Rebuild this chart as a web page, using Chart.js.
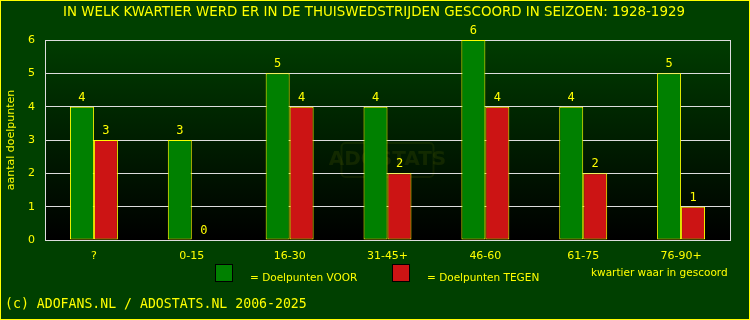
<!DOCTYPE html>
<html>
<head>
<meta charset="utf-8">
<script src="https://cdn.jsdelivr.net/npm/chart.js@4/dist/chart.umd.min.js"></script>
<style>
  html, body { margin: 0; padding: 0; background: #004000; }
  #wrap { position: relative; width: 750px; height: 320px; }
</style>
</head>
<body>
<div id="wrap"><canvas id="chart" width="750" height="320"></canvas></div>
<script>
// chart data
const categories = ['?', '0-15', '16-30', '31-45+', '46-60', '61-75', '76-90+'];
const goalsFor = [4, 3, 5, 4, 6, 4, 5];
const goalsAgainst = [3, 0, 4, 2, 4, 2, 1];
const yTicks = [0, 1, 2, 3, 4, 5, 6];

const YELLOW = '#ffff00';
const GRID = '#dddddd';

const decorations = {
    id: 'decorations',
    beforeDraw(chart) {
        const { ctx, chartArea: a } = chart;
        ctx.save();
        ctx.fillStyle = '#004000';
        ctx.fillRect(0, 0, chart.width, chart.height);
        const g = ctx.createLinearGradient(0, a.top, 0, a.bottom);
        g.addColorStop(0, '#003c00');
        g.addColorStop(1, '#000000');
        ctx.fillStyle = g;
        ctx.fillRect(a.left, a.top, a.right - a.left, a.bottom - a.top);
        ctx.restore();
    },
    beforeDatasetsDraw(chart) {
        // faint watermark in the middle of the plot
        const { ctx, chartArea: a } = chart;
        const cx = (a.left + a.right) / 2, cy = (a.top + a.bottom) / 2 + 20;
        ctx.save();
        ctx.strokeStyle = 'rgba(255,255,0,0.06)';
        ctx.lineWidth = 2;
        ctx.beginPath();
        ctx.roundRect(cx - 46, cy - 17, 92, 34, 4);
        ctx.stroke();
        ctx.fillStyle = 'rgba(255,255,0,0.07)';
        ctx.font = 'bold 20px "DejaVu Sans"';
        ctx.textAlign = 'center';
        ctx.textBaseline = 'middle';
        ctx.fillText('ADOSTATS', cx, cy);
        ctx.restore();
    },
    afterDatasetsDraw(chart) {
        const { ctx } = chart;
        ctx.save();
        ctx.fillStyle = YELLOW;
        ctx.font = '12px "DejaVu Sans Mono"';
        ctx.textAlign = 'center';
        ctx.textBaseline = 'middle';
        chart.data.datasets.forEach((ds, i) => {
            chart.getDatasetMeta(i).data.forEach((bar, j) => {
                ctx.fillText(String(ds.data[j]), bar.x, bar.y - 9);
            });
        });
        ctx.restore();
    },
    afterDraw(chart) {
        const { ctx, chartArea: a } = chart;
        ctx.save();
        // right edge of the plot
        ctx.strokeStyle = GRID;
        ctx.lineWidth = 1;
        ctx.beginPath();
        ctx.moveTo(a.right + 0.5, a.top);
        ctx.lineTo(a.right + 0.5, a.bottom + 1);
        ctx.stroke();

        ctx.fillStyle = YELLOW;
        ctx.textBaseline = 'middle';
        ctx.textAlign = 'center';
        ctx.font = '13.4px "DejaVu Sans"';
        ctx.fillText('IN WELK KWARTIER WERD ER IN DE THUISWEDSTRIJDEN GESCOORD IN SEIZOEN: 1928-1929', 374, 13);

        // legend
        const items = [
            { x: 215, color: chart.data.datasets[0].backgroundColor, label: '= Doelpunten VOOR', tx: 250 },
            { x: 392, color: chart.data.datasets[1].backgroundColor, label: '= Doelpunten TEGEN', tx: 427 }
        ];
        ctx.font = '10.5px "DejaVu Sans"';
        ctx.textAlign = 'left';
        items.forEach(it => {
            ctx.fillStyle = it.color;
            ctx.fillRect(it.x, 264, 18, 18);
            ctx.strokeStyle = '#000000';
            ctx.strokeRect(it.x + 0.5, 264.5, 17, 17);
            ctx.fillStyle = YELLOW;
            ctx.fillText(it.label, it.tx, 278);
        });
        ctx.fillText('kwartier waar in gescoord', 591, 273);

        ctx.font = '13.2px "DejaVu Sans Mono"';
        ctx.fillText('(c) ADOFANS.NL / ADOSTATS.NL 2006-2025', 5, 305);

        ctx.strokeStyle = YELLOW;
        ctx.strokeRect(0.5, 0.5, chart.width - 1, chart.height - 1);
        ctx.restore();
    }
};

new Chart(document.getElementById('chart'), {
    type: 'bar',
    data: {
        labels: categories,
        datasets: [
            {
                label: 'Doelpunten VOOR',
                data: goalsFor,
                backgroundColor: '#008000',
                borderColor: YELLOW,
                borderWidth: 1,
                borderSkipped: false
            },
            {
                label: 'Doelpunten TEGEN',
                data: goalsAgainst,
                backgroundColor: '#cc1414',
                borderColor: YELLOW,
                borderWidth: 1,
                borderSkipped: false
            }
        ]
    },
    options: {
        responsive: false,
        animation: false,
        devicePixelRatio: 1,
        layout: { padding: { top: 40, right: 20, left: 0, bottom: 0 } },
        datasets: { bar: { barPercentage: 1, categoryPercentage: 0.49 } },
        plugins: {
            legend: { display: false },
            tooltip: { enabled: false }
        },
        scales: {
            x: {
                grid: { display: false, drawTicks: false },
                border: { color: GRID },
                ticks: { color: YELLOW, font: { family: 'DejaVu Sans', size: 11 }, padding: 10, maxRotation: 0 },
                afterFit: s => { s.height = 80; }
            },
            y: {
                min: 0,
                max: 6,
                afterBuildTicks: s => { s.ticks = yTicks.map(v => ({ value: v })); },
                grid: { color: GRID, drawTicks: false },
                border: { color: GRID },
                ticks: { color: YELLOW, font: { family: 'DejaVu Sans', size: 11 }, padding: 10 },
                title: {
                    display: true,
                    text: 'aantal doelpunten',
                    color: YELLOW,
                    font: { family: 'DejaVu Sans', size: 11 },
                    padding: { top: 5, bottom: 0 }
                },
                afterFit: s => { s.width = 45; }
            }
        }
    },
    plugins: [decorations]
});
</script>
</body>
</html>
